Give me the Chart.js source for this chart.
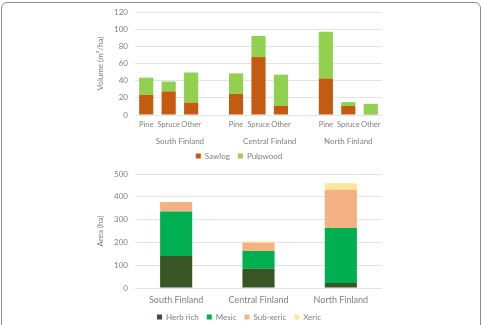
<!DOCTYPE html>
<html>
<head>
<meta charset="utf-8">
<script src="https://cdn.jsdelivr.net/npm/chart.js@4.4.0/dist/chart.umd.min.js"></script>
<style>
  html, body { margin: 0; padding: 0; background: #fff; }
  body { width: 483px; height: 325px; position: relative; overflow: hidden; }
  .frame { position: absolute; left: 1px; top: 2px; width: 478px; height: 340px; border: 1px solid #8c8c8c; border-radius: 6px; }
  .box { position: absolute; left: 0; width: 483px; }
  #topBox { top: 0; height: 170px; }
  #bottomBox { top: 162px; height: 169px; }
</style>
</head>
<body>
<div class="frame"></div>
<div class="box" id="topBox"><canvas id="volumeChart"></canvas></div>
<div class="box" id="bottomBox"><canvas id="areaChart"></canvas></div>
<script>
// Данные верхнего графика (объём, м3/га)
const regions = ['South Finland', 'Central Finland', 'North Finland'];
const volumeLabels = ['Pine', 'Spruce', 'Other', '', 'Pine', 'Spruce', 'Other', '', 'Pine', 'Spruce', 'Other'];
const sawlog = [23.5, 27.5, 14.5, null, 24.5, 67.5, 10.5, null, 42.5, 10.5, 1];
const pulpwood = [20, 11.5, 35, null, 24, 24.5, 36.5, null, 54.5, 4.5, 12];

// Данные нижнего графика (площадь, га)
const herbRich = [140, 84, 22];
const mesic = [196, 78, 241];
const subXeric = [41, 37, 168];
const xeric = [0, 5, 28];

const textColor = '#808080';
const gridColor = '#e3e3e3';
const fontFamily = 'Lato, "Liberation Sans", sans-serif';

Chart.defaults.font.family = fontFamily;
Chart.defaults.font.size = 8;
Chart.defaults.color = textColor;

// Подписи регионов под группами столбцов
const groupLabelPlugin = {
  id: 'groupLabels',
  afterDraw(chart) {
    const x = chart.scales.x;
    const ctx = chart.ctx;
    ctx.save();
    ctx.font = '8px ' + fontFamily;
    ctx.fillStyle = textColor;
    ctx.textAlign = 'center';
    ctx.textBaseline = 'middle';
    regions.forEach((name, i) => {
      const first = i * 4;
      const last = Math.min(i * 4 + 3, volumeLabels.length - 1);
      const cx = (x.getPixelForValue(first) + x.getPixelForValue(last)) / 2;
      ctx.fillText(name, cx, x.top + 26);
    });
    ctx.restore();
  },
};

const yTitle = (text) => ({ display: true, text: text, color: textColor, font: { size: 8 }, padding: 0 });

const legendOpts = {
  position: 'bottom',
  labels: { boxWidth: 5, boxHeight: 5, padding: 8, font: { size: 8 }, color: textColor },
};

new Chart(document.getElementById('volumeChart'), {
  type: 'bar',
  data: {
    labels: volumeLabels,
    datasets: [
      { label: 'Sawlog', data: sawlog, backgroundColor: '#c55a11' },
      { label: 'Pulpwood', data: pulpwood, backgroundColor: '#92d050' },
    ],
  },
  options: {
    animation: false,
    responsive: true,
    maintainAspectRatio: false,
    layout: { padding: { left: 96, right: 101, top: 12, bottom: 0 } },
    datasets: { bar: { categoryPercentage: 1, barPercentage: 0.63 } },
    plugins: { tooltip: { enabled: false }, legend: legendOpts },
    scales: {
      x: {
        stacked: true,
        grid: { display: false, drawTicks: false },
        border: { display: false },
        ticks: { autoSkip: false, maxRotation: 0, padding: 5, color: textColor, font: { size: 7.5 } },
        afterFit: (scale) => { scale.height = 29; },
      },
      y: {
        stacked: true,
        min: 0,
        max: 120,
        ticks: { stepSize: 20, padding: 7, color: textColor },
        grid: { color: gridColor, drawTicks: false },
        border: { display: false },
        title: yTitle('Volume (m³/ha)'),
        afterFit: (scale) => { scale.width = 39; },
      },
    },
  },
  plugins: [groupLabelPlugin],
});

new Chart(document.getElementById('areaChart'), {
  type: 'bar',
  data: {
    labels: regions,
    datasets: [
      { label: 'Herb rich', data: herbRich, backgroundColor: '#375623' },
      { label: 'Mesic', data: mesic, backgroundColor: '#00b050' },
      { label: 'Sub-xeric', data: subXeric, backgroundColor: '#f4b183' },
      { label: 'Xeric', data: xeric, backgroundColor: '#ffe699' },
    ],
  },
  options: {
    animation: false,
    responsive: true,
    maintainAspectRatio: false,
    layout: { padding: { left: 96, right: 101, top: 12, bottom: 0 } },
    datasets: { bar: { categoryPercentage: 1, barPercentage: 0.39 } },
    plugins: { tooltip: { enabled: false }, legend: legendOpts },
    scales: {
      x: {
        stacked: true,
        grid: { display: false, drawTicks: false },
        border: { display: false },
        ticks: { autoSkip: false, maxRotation: 0, padding: 7, color: textColor, font: { size: 9 } },
        afterFit: (scale) => { scale.height = 17; },
      },
      y: {
        stacked: true,
        min: 0,
        max: 500,
        ticks: { stepSize: 100, padding: 7, color: textColor },
        grid: { color: gridColor, drawTicks: false },
        border: { display: false },
        title: yTitle('Area (ha)'),
        afterFit: (scale) => { scale.width = 39; },
      },
    },
  },
});
</script>
</body>
</html>
